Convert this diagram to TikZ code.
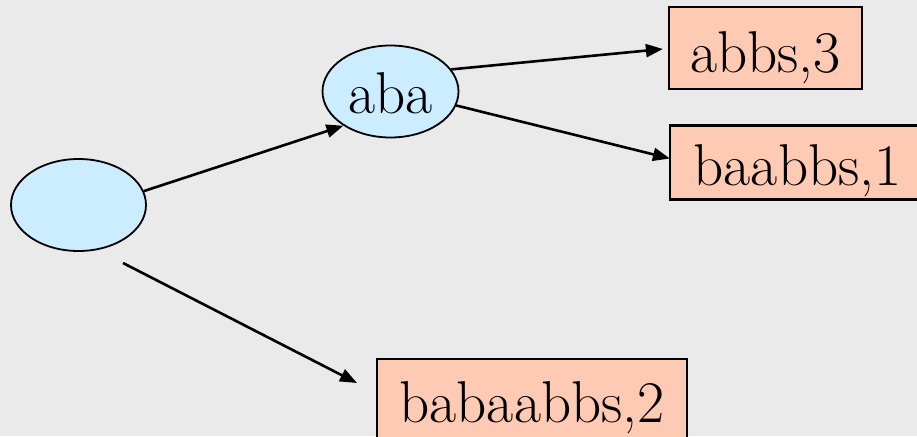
\documentclass[tikz,border=0pt]{standalone}
\usetikzlibrary{arrows.meta,shapes.geometric}
\definecolor{bgcol}{HTML}{EAEAEA}
\definecolor{nodeblue}{HTML}{CCECFF}
\definecolor{leafsalmon}{HTML}{FFCAB3}
\begin{document}
\begin{tikzpicture}[x=1pt,y=-1pt,
  every node/.style={font=\fontsize{59}{59}\selectfont},
  inner/.style={ellipse,draw=black,line width=1.8pt,fill=nodeblue,inner sep=0pt,
    text depth=0pt},
  leaf/.style={rectangle,draw=black,line width=2.2pt,fill=leafsalmon,inner sep=0pt,
    text depth=0pt},
  edge/.style={line width=2.6pt,-{Triangle[length=17pt,width=13pt]}}]
  % page frame and background
  \useasboundingbox (0,0) rectangle (917,436);
  \fill[bgcol] (0,0) rectangle (917,436);
  \clip (0,0) rectangle (917,436);

  % tree nodes
  \node[inner,minimum width=135pt,minimum height=92pt] (root) at (78.5,205) {};
  \node[inner,minimum width=136pt,minimum height=92pt,text height=44pt] (aba) at (390.5,91.5) {aba};

  % leaves
  \node[leaf,minimum width=193pt,minimum height=82pt,text height=48pt] (abbs) at (765.5,48) {abbs,3};
  \node[leaf,minimum width=255pt,minimum height=74pt,text height=45pt] (baabbs) at (797.5,162.5) {baabbs,1};
  \node[leaf,minimum width=310pt,minimum height=82pt,text height=44pt] (bab) at (532,400) {babaabbs,2};

  % free ends of the lower edge
  \coordinate (lowstart) at (123,263);
  \coordinate (lowend) at (357,383);

  % edges
  \draw[edge] (root.12) -- (aba.216);
  \draw[edge] (aba.20) -- ([xshift=-5pt,yshift=-1pt]abbs.west);
  \draw[edge] (aba.-12) -- ([xshift=1pt,yshift=4pt]baabbs.west);
  \draw[edge] (lowstart) -- (lowend);
\end{tikzpicture}
\end{document}
